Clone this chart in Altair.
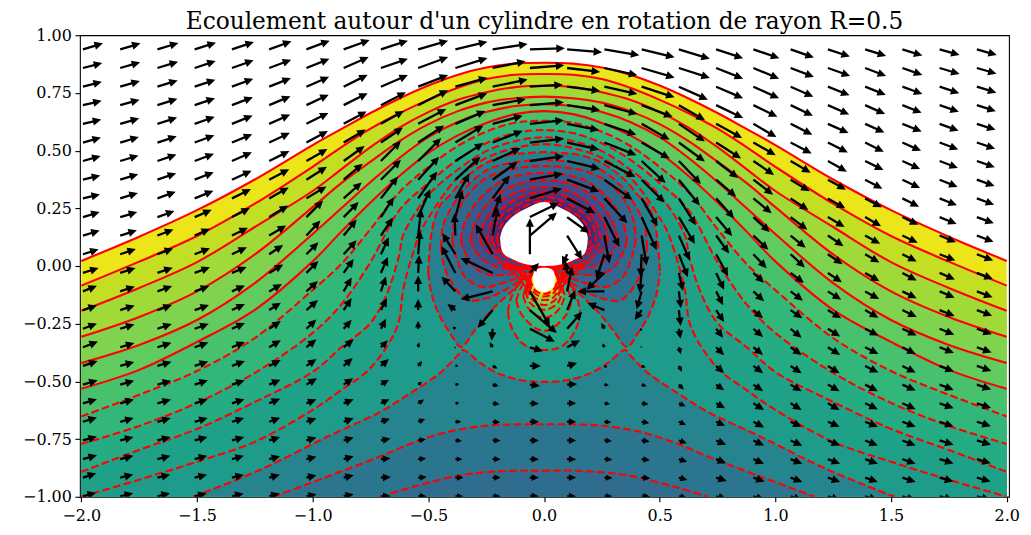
import math
import altair as alt
import pandas as pd

TITLE = "Ecoulement autour d'un cylindre en rotation de rayon R=0.5"
FONT = "DejaVu Serif"
X_TICKS = [-2, -1.5, -1, -0.5, 0, 0.5, 1, 1.5, 2]
Y_TICKS = [-1, -0.75, -0.5, -0.25, 0, 0.25, 0.5, 0.75, 1]

# The picture is mirror-symmetric about x=0: the curves are read on the left half.
XH = [-2, -1.75, -1.5, -1.25, -1, -0.875, -0.75, -0.625, -0.5, -0.375, -0.25, -0.125, 0]
L1 = [.022, .127, .242, .375, .524, .594, .663, .726, .782, .828, .86, .877, .881]
L2 = [-.085, .019, .13, .27, .43, .515, .595, .662, .72, .771, .81, .829, .832]
L3 = [-.194, -.095, .017, .169, .325, .42, .515, .6, .667, .719, .753, .775, .781]
L4 = [-.307, -.221, -.11, .05, .255, .36, .452, .541, .615, .67, .708, .727, .734]
L5 = [-.42, -.342, -.234, -.074, .139, .251, .364, .468, .558, .623, .667, .693, .701]
L6 = [-.532, -.45, -.329, -.19, .02, .15, .275, .39, .49, .565, .62, .658, .671]
L7 = [-.652, -.558, -.455, -.312, -.104, .01, .16, .32, .429, .519, .582, .621, .629]
L8 = [-.771, -.693, -.593, -.463, -.29, -.165, .017, .242, .359, .459, .532, .576, .589]
L9X = [-2, -1.75, -1.5, -1.25, -1, -.875, -.75, -.678, -.626, -.609, -.5, -.375, -.25, -.125, 0]
L9 = [-.892, -.797, -.706, -.589, -.459, -.351, -.247, -.117, .048, .134, .307, .416, .498, .541, .558]
L10X = [-2, -1.75, -1.5, -1.25, -1, -.875, -.75, -.635, -.609, -.583, -.536, -.5, -.375, -.25, -.125, 0]
L10 = [-1, -.926, -.848, -.762, -.623, -.537, -.442, -.264, -.104, 0, .143, .208, .381, .468, .511, .528]
WX = [-1.516, -1.227, -.937, -.708, -.609, -.449, -.371, -.35, -.276, -.203, -.104, 0]
W = [-1, -.883, -.74, -.632, -.571, -.463, -.385, -.364, -.42, -.463, -.494, -.502]
L12X = [-1.171, -.937, -.708, -.55, -.4, -.25, -.125, 0]
L12 = [-1, -.913, -.825, -.76, -.715, -.692, -.686, -.686]
L13X = [-.708, -.566, -.35, -.134, 0]
L13 = [-1, -.957, -.905, -.887, -.887]

# closed curves: x, upper side, lower side
LOOPS = [
    ([-.501, -.484, -.449, -.406, -.359, -.298, -.225, -.134, -.073, 0],
     [-.03, .156, .264, .307, .364, .416, .459, .485, .489, .494],
     [-.03, -.13, -.221, -.29, -.351, -.277, -.19, -.104, -.048, -.009], "#27808e"),
    ([-.445, -.436, -.406, -.333, -.246, -.168, -.082, 0],
     [.082, .177, .242, .346, .416, .442, .455, .459],
     [.082, .017, -.061, -.147, -.139, -.104, -.052, -.013], "#2c728e"),
    ([-.397, -.384, -.341, -.263, -.177, -.082, 0],
     [.113, .208, .294, .372, .411, .429, .433],
     [.113, .056, -.048, -.091, -.074, -.039, -.009], "#31688e"),
    ([-.359, -.346, -.298, -.233, -.177, -.082, 0],
     [.113, .177, .268, .333, .372, .398, .403],
     [.113, .069, -.009, -.039, -.039, -.026, -.009], "#375a8c"),
    ([-.315, -.307, -.263, -.203, -.125, 0],
     [.113, .165, .247, .307, .351, .372],
     [.113, .082, .026, -.004, -.013, -.004], "#3c4f8a"),
    ([-.276, -.263, -.233, -.177, -.104, 0],
     [.113, .177, .229, .286, .325, .342],
     [.113, .082, .056, .022, -.004, -.004], "#424086"),
    ([-.246, -.233, -.203, -.156, -.082, 0],
     [.113, .173, .225, .268, .307, .32],
     [.113, .087, .061, .035, .004, -.004], "#463480"),
    ([-.225, -.212, -.181, -.138, -.069, 0],
     [.113, .173, .22, .25, .285, .299],
     [.113, .087, .061, .035, .004, 0], "#482878"),
    ([-.203, -.19, -.164, -.121, -.06, 0],
     [.113, .165, .205, .235, .27, .281],
     [.113, .082, .052, .026, 0, 0], "#481c6e"),
]
LOBES = [
    ([-.156, -.143, -.104, -.06, 0], [-.199, -.14, -.07, -.025, -.01], [-.199, -.26, -.325, -.355, -.364], "#22a884"),
    ([-.12, -.1, -.06, -.03, 0], [-.15, -.095, -.04, -.015, -.009], [-.15, -.205, -.251, -.273, -.281], "#2fb47c"),
    ([-.09, -.07, -.04, 0], [-.13, -.07, -.025, -.008], [-.13, -.18, -.21, -.225], "#48c16e"),
    ([-.08, -.06, -.03, 0], [-.11, -.05, -.015, -.006], [-.11, -.16, -.182, -.19], "#62cb5f"),
    ([-.075, -.055, -.03, 0], [-.095, -.04, -.012, -.006], [-.095, -.14, -.16, -.169], "#7fd34e"),
    ([-.07, -.05, -.03, 0], [-.08, -.033, -.01, -.005], [-.08, -.125, -.143, -.147], "#a0da39"),
    ([-.065, -.05, -.03, 0], [-.065, -.028, -.008, -.005], [-.065, -.105, -.125, -.132], "#c2df23"),
    ([-.06, -.05, -.03, 0], [-.055, -.022, -.006, -.004], [-.055, -.09, -.112, -.121], "#e8e419"),
]
# tightly packed contour arcs between the two white holes (left side; the right is its mirror)
FAN = [
    ([-.17, -.13, -.09, -.06], [0, -.03, -.075, -.125]),
    ([-.15, -.11, -.08, -.055], [0, -.025, -.06, -.1]),
    ([-.13, -.095, -.07, -.05], [0, -.02, -.05, -.085]),
    ([-.2, -.15, -.1, -.05, 0], [.02, -.005, -.012, -.012, -.012]),
    ([-.17, -.1, -.05, 0], [.008, -.004, -.004, -.004]),
]
HOLE_BIG = ([-.19, -.177, -.138, -.073, 0], [.121, .165, .212, .251, .277], [.121, .056, .03, .006, 0])
HOLE_SMALL = ([-.048, -.04, -.02, 0], [-.052, -.02, -.01, -.008], [-.052, -.09, -.108, -.113])

# quiver grid and components, column by column, rows from top to bottom
COL_X = [-1.993, -1.832, -1.671, -1.510, -1.349, -1.188, -1.027, -.866, -.705, -.544, -.383, -.222, -.061,
         .1, .261, .422, .583, .744, .905, 1.066, 1.227, 1.388, 1.549, 1.71, 1.871]
ROW_Y = [.939, .858, .777, .697, .616, .535, .455, .374, .293, .212, .132, .051, -.03, -.11, -.191, -.272,
         -.352, -.433, -.514, -.595, -.675, -.756, -.837, -.917, -.998]
U = [
 [20,19.3,19,18.7,18.3,18,17.7,17.3,17,16.7,16.7,15.7,15.7,14,14,14,15,14.7,14.7,14,14,14,14,13.3,13],
 [20.3,20,19.7,19.3,19,18.7,18.3,18,17.7,17,16.7,15.7,15.3,14.7,14.5,14.3,14.2,14,14,13.7,13.5,13.3,13.2,13,13],
 [21,20.7,20.3,20,19.7,19.3,19,18.7,18.3,17,16,15.7,15.3,14.7,14.5,14.3,14,14,13.7,13.5,13.3,13,13,12.7,12.5],
 [21.3,21,20.7,20.3,20,19.7,19.3,19,18.7,17,15.3,15.3,15.3,14.5,14.3,14,13.7,13.5,13.3,13,13,12.7,12.5,12.3,12],
 [22,21.7,21.3,21,20.7,20.3,20,19.7,19,18,16,15,14.7,13,13,13,13,13,12.7,12.5,12.3,12.3,12,12,11.7],
 [22.3,22,21.7,21.3,21,20.7,20.3,20,19.5,19,17,14,14,12.7,11.7,11.7,11.7,11.5,11.3,11,11,11,11,10.7,10.5],
 [23.3,23,22.7,22.3,22,21.5,21,20.5,20,16.7,14,12,12,11.5,11.5,10,10,10,10.5,10,10,10,10,10,10],
 [26,25,24,24,23,22,21,19,18,15,13,13,10,8,8,8,10,9,9.5,10,10,10,10,10,10],
 [27,27,27,25,23,22,20,20,17,13,12,8,7,5,6,5,7,8,8,8.5,9,9.5,9.5,10,10],
 [30,30,30,30,28,26,23,21,19,12,3,2,1,0,0,0,1,4,4,6,7,7.7,8,8.5,8.5],
 [32,32,32,32,30,28,28,25,14,7,-1,-13,-14,-14,-8,-3,.5,3,4,4,6,6.5,7,8,8],
 [35,33,35,33,30,30,28,25,17,8,5,-17,-32,-32,-15,-1,-3,5,6,7,7.5,8,8,8,8],
 [35,34.5,33,34,34,34,34,33,32,29,27,0,9,20,27,25,13,11,10,9,9,9,9,9,9],
 [35,33,33,33,32,32,33,32,28,22,15,-5,-2,5,8,15,13,10,10,9,9,9,9,9,9],
 [35,33,33,33,32,32,31,28,23,15,5,-8,-18,-27,-17,-3,-2,3,4.5,5.7,7,7.5,8,8,8],
 [33,33,33,31,28,28,24,23,16,15,5,-1,-2,-5,-7,-2,.5,4,5,7,7.7,8,8.3,8.7,8.7],
 [31,31,29,26,26,26,22,21,17,16,11,9,4,2,1.7,1.7,2,3,5,6.7,7.3,8,8.3,8.5,8.5],
 [27,27,27,27,26,25,22,20,18,16,13,12,8,7,8,7,8,8,8,9,9,10,10,10.7,10.7],
 [26,25.7,25.7,24,23,22.3,20.7,19.7,18.3,16.3,15,13.3,10.7,10.7,9.7,9.7,9.7,9.7,9.7,10.7,10.7,10.7,10.7,11.3,11.3],
 [23.3,23.3,22.7,22.3,21.7,21,20,19,17.7,16.7,15,14.3,13.3,12.3,11.7,11,11,11,11,11,11,11.7,11.7,11.7,11.7],
 [22,22.3,21.7,21.3,20.7,20,19,18,17.3,16.7,15.7,14.7,14,13.3,13.3,12.3,12.3,11.7,11.7,11.7,11.7,12.3,12.3,12.3,12.3],
 [21,21,20.7,20,19.3,18.7,18.3,17.3,16.7,16,15,14.3,14.3,14,13.3,13.3,13.3,13.3,12.7,12.7,12.7,12.7,12.7,12.7,12.7],
 [20,20,20,19.3,19.3,18.7,17.7,17.7,16.7,16,15.3,14.3,14.3,14.3,14.3,14.3,13.3,13.3,13.3,13.3,13.3,13.3,13.3,13.3,13.3],
 [20,20,19.7,19.3,19,18.7,18.3,18,17.3,17,16.3,15.7,15.3,15,15,14.7,14.3,14.3,14,14,14,14,14,13.7,13.7],
 [20,19.7,19.5,19,18.7,18.3,18,17.7,17.3,17,16.7,16.3,16,15.7,15.3,15,14.7,14.5,14.3,14.3,14,14,14,13.7,13.5],
]
V = [
 [6,5,5,4.3,4.3,5,5,4.3,4,5,5,5,5,5.7,4.7,5.3,5.7,5,4.3,4,4.3,4,4,4.3,3.5],
 [6,5.7,5.7,5.5,5.5,5.5,5.5,5.5,5.5,5,5.3,5.3,5,5,4.7,4.5,4.3,4,4,3.8,3.7,3.5,3.3,3.2,3],
 [6.3,6.3,6.3,6.3,6.3,6.3,6.5,6.5,6.7,6,6,5.7,5.3,5.3,5,4.7,4.5,4.3,4,3.8,3.7,3.5,3.3,3,3],
 [6.7,7,7,7,7,7.3,7.3,7.5,7.7,7.3,6.7,6,5.7,5.3,5,5,4.7,4.5,4.3,4,3.7,3.5,3.3,3,3],
 [7.3,7.7,8,8,8.3,8.3,8.7,9,9.3,9,7.7,7,6,6,6,5.7,5.3,5,4.5,4,3.7,3.5,3.3,3,2.7],
 [8,8.3,8.7,9,9.3,9.7,10,10.5,11,11.5,10,9.3,8.5,7.3,7.3,7.7,7,6,5,4.5,4,3.5,3,3,2.7],
 [8.7,9.3,10,10.5,11,11.5,12,13,12,16.7,15,12,12,10.5,10,9.3,8,7,6.5,4,3.5,3,2.5,2.5,2],
 [9.3,11,12,12,12.5,13,15,16,16,15,16,14,14,14,12,9,8,8,6.5,4,3.5,3,3,2.5,2],
 [8.7,9.3,11.7,13,13,15,20,20,22,20,18,17,16,15,12,10,7,7,5,4,3,2,1,.5,0],
 [8.7,11,11.7,15,15,17,23,23,27,28,27,24,18,16,11,8,5,5,3,3.7,2.7,1.3,.7,.5,0],
 [7.7,10,9,12,13,17,18,23,25,27,22,21,27,15,6,2,.5,0,.5,.5,0,-.5,0,0,0],
 [5.3,6.7,7.3,6,8,11.7,13,18,23,23,28,30,15,-8,-18,-12,5,-2.5,-1.5,-1,-.5,0,0,0,0],
 [1,2.7,2,3,3.7,4,5,6,10,14.3,23,36,10,-35,-23,-13,-4,0,-1.5,-.5,0,0,0,0,0],
 [-3,-4,-4.3,-5,-6.3,-7,-8,-12,-15,-16,-24,-11,12,25,20,17,7,3,.5,0,0,0,0,0,0],
 [-6,-7.3,-7.3,-9,-11,-12.7,-16,-20,-25,-30,-28,-25,-17,0,7,6,4,-1.5,-.7,-.7,-.5,-.5,-.5,-.5,0],
 [-8,-9.7,-10.7,-11.7,-16,-16,-22,-23,-28,-33,-30,-23,-20,-18,-10,-2,-.5,-1.7,-1.7,-1,-1.3,-1,-1,-.7,-.5],
 [-9.5,-10,-13,-15,-17.7,-19,-23,-26,-27,-27,-25,-23,-18,-17,-16,-10,-7,-6,-5,-3,-3,-2.7,-2.7,-2.5,-2],
 [-9,-10.7,-11.7,-13,-14.3,-16,-17,-17,-20,-19,-18,-22,-17,-14,-12,-9,-8,-7,-5.7,-5,-4,-4.3,-4,-3.3,-3],
 [-9,-10.7,-11.7,-11.7,-13.3,-12.7,-14,-15,-15,-15,-14.3,-14,-10,-10,-8.3,-8.3,-7.7,-7.3,-6.7,-6.7,-5.7,-5,-4.7,-4,-3.5],
 [-8.3,-9,-10,-10.7,-11,-11,-11.7,-11.7,-11.7,-12.7,-12.3,-13.3,-10,-9.3,-8.3,-9,-7.7,-7.3,-6.7,-6.7,-5,-5.3,-4.7,-4.3,-4],
 [-7.3,-8,-8.7,-9.3,-9.3,-10,-10.7,-10,-10,-10,-10.7,-10,-9.3,-8.3,-8.3,-7.7,-7.7,-7.3,-6.7,-6.7,-5,-5,-4.7,-4.3,-4],
 [-6.7,-8,-8.3,-9,-8.7,-9.3,-9,-9,-9,-9.3,-8.3,-8.3,-8.3,-7.7,-7.7,-6.7,-6.7,-6.7,-6.7,-6,-5,-5,-4.7,-4.3,-4],
 [-6.3,-7,-7.3,-7.7,-7.7,-8.3,-8,-8.3,-8.3,-7.7,-7.3,-7.3,-7.7,-7,-7,-6.7,-6.7,-6.7,-6,-6,-5,-5,-4.7,-4.3,-4],
 [-5.7,-6,-6.5,-6.7,-7,-7,-7,-7.3,-7,-7,-6.7,-6.3,-6.7,-6.3,-6,-6,-5.7,-5.5,-5.3,-5,-4.7,-4.3,-4.3,-4,-3.7],
 [-5.7,-5.7,-6,-6,-6,-6.3,-6.3,-6.3,-6.3,-6.3,-6.3,-6.3,-6,-6,-5.7,-5.5,-5.3,-5,-5,-4.7,-4.5,-4.3,-4,-3.8,-3.5],
]
QUIVER_SCALE = 231.5  # component units per data unit

SOLID = [(XH, L1, "#ebe51a"), (XH, L2, "#c2df23"), (XH, L3, "#a0da39"), (XH, L4, "#7fd34e"),
         (XH, L5, "#62cb5f"), (XH, L6, "#48c16e")]
DASHED = [(XH, L7, "#32b67a"), (XH, L8, "#25ac82"), (L9X, L9, "#1fa187"), (L10X, L10, "#1e9b8a"),
          (WX, W, "#26848e"), (L12X, L12, "#2b758e"), (L13X, L13, "#2f6c8e")]


def mirror(xs, ys):
    return list(xs) + [-v for v in reversed(xs[:-1])], list(ys) + list(reversed(ys[:-1]))


CURVE = "catmull-rom"
xscale = alt.Scale(domain=[-2.006, 2.010], nice=False, zero=False)
yscale = alt.Scale(domain=[-1, 1], nice=False, zero=False)
XAXIS = alt.Axis(values=X_TICKS, format=".1f", grid=False, domain=False, labelPadding=5.5)
YAXIS = alt.Axis(values=Y_TICKS, format=".2f", grid=False, domain=False, labelPadding=3.5)
XE = alt.X("x:Q", scale=xscale, axis=XAXIS, title=None)
YE = alt.Y("y:Q", scale=yscale, axis=YAXIS, title=None)

layers = []
lines = []


def area_chart(xs, top, bot, color):
    fx, ft = mirror(xs, top)
    _, fb = mirror(xs, bot)
    df = pd.DataFrame({"x": fx, "y": ft, "y2": fb})
    return alt.Chart(df).mark_area(color=color, interpolate=CURVE, clip=True, opacity=1).encode(
        x=XE, y=YE, y2=alt.Y2("y2:Q"))


def add_line(xs, ys, sid, dashed):
    fx, fy = mirror(xs, ys)
    lines.append(pd.DataFrame({"x": fx, "y": fy, "sid": sid, "dashed": dashed}))


sid = 0
for xs, ys, col in SOLID + DASHED:
    layers.append(area_chart(xs, ys, [-1] * len(ys), col))
    sid += 1
    add_line(xs, ys, sid, col in [c for _, _, c in DASHED])
for xs, top, bot, col in LOOPS + LOBES:
    layers.append(area_chart(xs, top, bot, col))
    sid += 1
    add_line(xs, top, sid, True)
    sid += 1
    add_line(xs, bot, sid, True)
for xs, ys in FAN:
    sid += 1
    lines.append(pd.DataFrame({"x": xs, "y": ys, "sid": sid, "dashed": False}))
    sid += 1
    lines.append(pd.DataFrame({"x": [-v for v in xs], "y": ys, "sid": sid, "dashed": False}))

ldf = pd.concat(lines, ignore_index=True)
layers.append(alt.Chart(ldf[~ldf.dashed]).mark_line(color="#ff0000", strokeWidth=2.1, interpolate=CURVE, clip=True).encode(
    x=XE, y=YE, detail="sid:N"))
layers.append(alt.Chart(ldf[ldf.dashed]).mark_line(color="#ff0000", strokeWidth=2.1, strokeDash=[7.7, 3.3], interpolate=CURVE, clip=True).encode(
    x=XE, y=YE, detail="sid:N"))
for xs, top, bot in (HOLE_BIG, HOLE_SMALL):
    layers.append(area_chart(xs, top, bot, "#ffffff"))

rows = []
for c, xc in enumerate(COL_X):
    for r, yr in enumerate(ROW_Y):
        u, v = U[c][r], V[c][r]
        length = math.hypot(u, v)
        head = min(8.5, max(2.0, length * 0.8))
        ang = math.degrees(math.atan2(u, v)) % 360
        k = max(0.0, 1 - 0.5 * head / length) if length else 0
        rows.append({"x": xc, "y": yr, "tx": xc + u / QUIVER_SCALE, "ty": yr + v / QUIVER_SCALE,
                     "sx": xc + k * u / QUIVER_SCALE, "sy": yr + k * v / QUIVER_SCALE,
                     "angle": ang, "size": (2 * head) ** 2})
adf = pd.DataFrame(rows)
layers.append(alt.Chart(adf).mark_rule(color="black", strokeWidth=2.3, clip=True).encode(
    x=XE, y=YE, x2=alt.X2("sx:Q"), y2=alt.Y2("sy:Q")))
layers.append(alt.Chart(adf).mark_point(shape="M0,0L-0.48,1L0.48,1Z", filled=True, color="black", opacity=1, clip=True).encode(
    x=alt.X("tx:Q", scale=xscale, axis=XAXIS, title=None),
    y=alt.Y("ty:Q", scale=yscale, axis=YAXIS, title=None),
    angle=alt.Angle("angle:Q", scale=None),
    size=alt.Size("size:Q", scale=None, legend=None)))

chart = alt.layer(*layers).properties(
    width=930, height=462,
    autosize=alt.AutoSizeParams(type="none"),
    padding={"left": 72, "top": 27, "right": 14, "bottom": 30},
    title=alt.TitleParams(TITLE, font=FONT, fontSize=23.3, fontWeight="normal", anchor="middle", offset=2, dy=9, color="black"),
).configure_view(stroke="black", strokeWidth=1.1).configure_axis(
    labelFont=FONT, labelFontSize=16, labelColor="black", tickColor="black", tickSize=5, tickWidth=1.1,
    labelOverlap=False, labelFlush=False,
)
chart.save("out.html", embed_options={"renderer": "svg", "actions": False})
